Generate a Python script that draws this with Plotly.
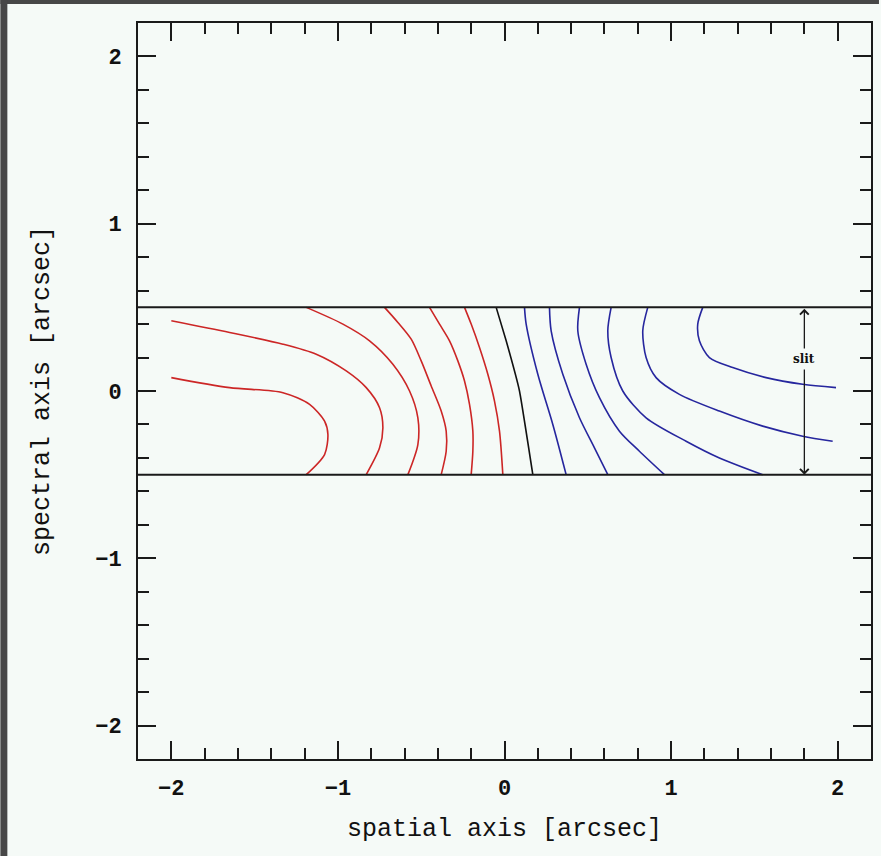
import plotly.graph_objects as go

# ---------------- data ----------------
# red contours (left side)
red_x = [
    [-2.00, -1.65, -1.33, -1.17, -1.08, -1.06, -1.08, -1.19],
    [-2.00, -1.65, -1.33, -1.13, -0.95, -0.83, -0.75, -0.73, -0.75, -0.83],
    [-1.19, -0.97, -0.81, -0.67, -0.57, -0.52, -0.52, -0.58],
    [-0.72, -0.64, -0.56, -0.50, -0.44, -0.38, -0.35, -0.35, -0.38],
    [-0.45, -0.39, -0.33, -0.28, -0.24, -0.21, -0.19, -0.19, -0.20],
    [-0.24, -0.20, -0.15, -0.10, -0.06, -0.03, -0.01],
]
red_y = [
    [0.08, 0.02, -0.01, -0.08, -0.18, -0.26, -0.38, -0.50],
    [0.42, 0.35, 0.28, 0.22, 0.12, 0.02, -0.10, -0.22, -0.34, -0.50],
    [0.50, 0.40, 0.30, 0.16, 0.00, -0.16, -0.32, -0.50],
    [0.50, 0.41, 0.31, 0.18, 0.03, -0.12, -0.24, -0.36, -0.50],
    [0.50, 0.40, 0.30, 0.18, 0.06, -0.08, -0.24, -0.36, -0.50],
    [0.50, 0.40, 0.26, 0.10, -0.06, -0.24, -0.50],
]
# zero-velocity contour (black)
black_x = [-0.05, 0.01, 0.09, 0.17]
black_y = [0.50, 0.30, 0.00, -0.50]
# blue contours (right side)
blue_x = [
    [0.12, 0.13, 0.20, 0.29, 0.37],
    [0.27, 0.28, 0.35, 0.45, 0.54, 0.62],
    [0.45, 0.44, 0.49, 0.57, 0.69, 0.81, 0.96],
    [0.64, 0.62, 0.64, 0.71, 0.85, 1.09, 1.29, 1.55],
    [0.86, 0.83, 0.85, 0.91, 1.05, 1.29, 1.55, 1.79, 1.97],
    [1.19, 1.16, 1.17, 1.23, 1.37, 1.57, 1.79, 1.99],
]
blue_y = [
    [0.50, 0.40, 0.10, -0.20, -0.50],
    [0.50, 0.36, 0.10, -0.16, -0.34, -0.50],
    [0.50, 0.36, 0.16, -0.04, -0.24, -0.36, -0.50],
    [0.50, 0.36, 0.20, 0.00, -0.16, -0.30, -0.40, -0.50],
    [0.50, 0.36, 0.20, 0.08, -0.02, -0.12, -0.21, -0.27, -0.30],
    [0.50, 0.40, 0.30, 0.20, 0.14, 0.08, 0.04, 0.02],
]
slit_half_width = 0.5
slit_arrow_x = 1.8
slit_label = "slit"
slit_label_y = 0.19
x_title = "spatial axis [arcsec]"
y_title = "spectral axis [arcsec]"
axis_range = [-2.2, 2.2]

# ---------------- styling ----------------
BG = "#f5faf7"
FRAME = "#1a1a1a"
RED = "#cc2626"
BLUE = "#26269e"
FONT = "Liberation Mono"

fig = go.Figure()
for xs, ys in zip(red_x, red_y):
    fig.add_trace(go.Scatter(x=xs, y=ys, mode="lines",
                             line=dict(color=RED, width=1.6, shape="spline", smoothing=0.8),
                             hoverinfo="skip", showlegend=False))
fig.add_trace(go.Scatter(x=black_x, y=black_y, mode="lines",
                         line=dict(color="#111111", width=1.6, shape="spline", smoothing=0.3),
                         hoverinfo="skip", showlegend=False))
for xs, ys in zip(blue_x, blue_y):
    fig.add_trace(go.Scatter(x=xs, y=ys, mode="lines",
                             line=dict(color=BLUE, width=1.6, shape="spline", smoothing=0.8),
                             hoverinfo="skip", showlegend=False))

# slit edges
for yv in (slit_half_width, -slit_half_width):
    fig.add_shape(type="line", xref="paper", x0=0, x1=1, yref="y", y0=yv, y1=yv,
                  line=dict(color=FRAME, width=2), layer="above")

# slit double arrow
fig.add_annotation(x=slit_arrow_x, y=-slit_half_width, ax=slit_arrow_x, ay=slit_half_width,
                   xref="x", yref="y", axref="x", ayref="y", text="",
                   showarrow=True, arrowhead=4, startarrowhead=4, arrowside="end+start",
                   arrowsize=1.3, startarrowsize=1.3, arrowwidth=1.3, arrowcolor=FRAME)
fig.add_annotation(x=slit_arrow_x, y=slit_label_y, xref="x", yref="y",
                   text="<b>" + slit_label + "</b>", showarrow=False,
                   font=dict(family="DejaVu Serif", size=12, color="#111111"),
                   bgcolor=BG, borderpad=3)

# dark border strips at the top and left of the picture (as in the reference image)
W, H = 881, 856
ml, mr, mt, mb = 138, 8, 23, 97
pw, ph = W - ml - mr, H - mt - mb
fig.add_shape(type="rect", xref="paper", yref="paper",
              x0=-ml / pw, x1=(W - ml) / pw, y0=1 + (mt - 4) / ph, y1=1 + mt / ph,
              fillcolor="#474747", line=dict(width=0), layer="above")
fig.add_shape(type="rect", xref="paper", yref="paper",
              x0=-ml / pw, x1=(7 - ml) / pw, y0=-mb / ph, y1=1 + mt / ph,
              fillcolor="#474747", line=dict(width=0), layer="above")

axis_common = dict(
    range=axis_range, showgrid=False, zeroline=False,
    showline=True, linecolor=FRAME, linewidth=2, mirror="ticks",
    ticks="inside", ticklen=18, tickwidth=1.6, tickcolor=FRAME, dtick=1, tick0=0,
    minor=dict(ticks="inside", ticklen=11, tickwidth=1.6, tickcolor=FRAME, dtick=0.2, tick0=0),
    tickfont=dict(family=FONT, size=22, color="#111111", weight="bold"),
)
fig.update_xaxes(**axis_common, ticklabelstandoff=8,
                 title=dict(text=x_title, font=dict(family=FONT, size=25, color="#111111"), standoff=17))
fig.update_yaxes(**axis_common, ticklabelstandoff=10,
                 title=dict(text=y_title, font=dict(family=FONT, size=25, color="#111111"), standoff=38))

fig.update_layout(width=W, height=H, margin=dict(l=ml, r=mr, t=mt, b=mb),
                  paper_bgcolor=BG, plot_bgcolor=BG, showlegend=False)

fig.write_html("out.html")
